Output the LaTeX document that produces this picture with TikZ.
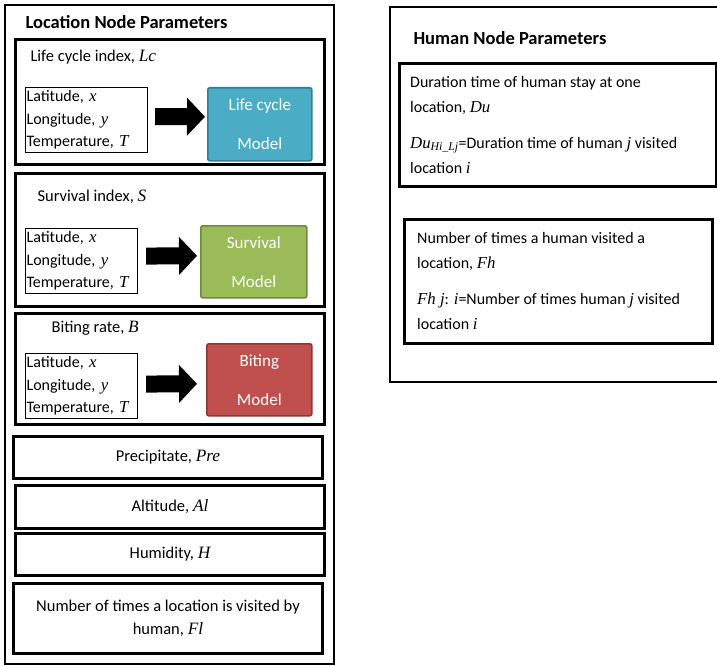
\documentclass[tikz,border=0pt]{standalone}
\usepackage{fontspec}
\setmainfont{Carlito}
\newfontfamily\varfont{Liberation Serif}[Scale=1.05]
\newcommand\mv[1]{{\varfont\itshape #1}}
\usetikzlibrary{arrows.meta,calc}
\definecolor{lcfill}{HTML}{4BACC6}
\definecolor{lcdraw}{HTML}{357D91}
\definecolor{svfill}{HTML}{9BBB59}
\definecolor{svdraw}{HTML}{71893F}
\definecolor{btfill}{HTML}{C0504D}
\definecolor{btdraw}{HTML}{8C3836}
\begin{document}
\begin{tikzpicture}[x=1pt,y=-1pt,
  font=\fontsize{16.5}{19}\selectfont,
  panel/.style={draw, line width=2.4pt, anchor=north west, inner sep=0pt},
  parbox/.style={draw, line width=3pt, anchor=north west, inner sep=0pt, align=center},
  inbox/.style={draw, line width=1.1pt, anchor=north west, inner xsep=1pt, inner ysep=0pt,
    align=left, font=\fontsize{16}{22.5}\selectfont},
  model/.style={line width=1.6pt, rounded corners=2pt, anchor=north west, text=white,
    align=center, inner sep=0pt, font=\fontsize{17}{19}\selectfont},
  heading/.style={anchor=west, font=\fontsize{18.5}{21}\selectfont\bfseries},
  label/.style={anchor=west},
  infobox/.style={draw, line width=3pt, anchor=north west, inner sep=0pt},
  infotext/.style={anchor=north west, inner sep=0pt, align=left,
    font=\fontsize{16}{25}\selectfont},
  blockarrow/.style={line width=17pt, -{Triangle[length=18pt,width=37pt]}}
]
\useasboundingbox (0,0) rectangle (717,666);

% ---------------- location node parameters ----------------
\node[panel, minimum width=329, minimum height=659] (loc) at (3.5,4) {};
\node[heading] (loctitle) at (22,22) {Location Node Parameters};

% life cycle
\node[parbox, minimum width=309, minimum height=125] (lc) at (14,38) {};
\node[label] (lclab) at (27,57) {Life cycle index, \mv{Lc}};
\node[inbox, minimum width=122, minimum height=65, text width=120] (lcin) at (25,87)
  {Latitude, \mv{x}\\Longitude, \mv{y}\\Temperature, \mv{T}};
\node[model, fill=lcfill, draw=lcdraw, minimum width=104, minimum height=73] (lcm) at (207,87)
  {Life cycle\\[20pt]Model};
\draw[blockarrow] ($(lcin.east)+(7,-3.5)$) -- ($(lcm.west)+(-2,-7.5)$);

% survival
\node[parbox, minimum width=309, minimum height=133] (sv) at (14,172) {};
\node[label] (svlab) at (34,197) {Survival index, \mv{S}};
\node[inbox, minimum width=112, minimum height=65, text width=110] (svin) at (25,228)
  {Latitude, \mv{x}\\Longitude, \mv{y}\\Temperature, \mv{T}};
\node[model, fill=svfill, draw=svdraw, minimum width=106, minimum height=72] (svm) at (200,225)
  {Survival\\[20pt]Model};
\draw[blockarrow] ($(svin.east)+(8,-5)$) -- ($(svm.west)+(-3,-6)$);

% biting
\node[parbox, minimum width=309, minimum height=111] (bt) at (14,312) {};
\node[label] (btlab) at (48,328) {Biting rate, \mv{B}};
\node[inbox, minimum width=112, minimum height=65, text width=110] (btin) at (25,353)
  {Latitude, \mv{x}\\Longitude, \mv{y}\\Temperature, \mv{T}};
\node[model, fill=btfill, draw=btdraw, minimum width=105, minimum height=72] (btm) at (206,343)
  {Biting\\[20pt]Model};
\draw[blockarrow] ($(btin.east)+(8,-2)$) -- ($(btm.west)+(-9,4)$);

% single-value parameters
\node[parbox, minimum width=309, minimum height=42] (pre) at (12,435) {Precipitate, \mv{Pre}};
\node[parbox, minimum width=309, minimum height=43] (alt) at (14,484) {Altitude, \mv{Al}};
\node[parbox, minimum width=309, minimum height=42] (hum) at (14,532) {Humidity, \mv{H}};
\node[parbox, minimum width=309, minimum height=70, font=\fontsize{16.5}{23}\selectfont] (fl) at (12,582)
  {Number of times a location is visited by\\human, \mv{Fl}};

% ---------------- human node parameters ----------------
\node[panel, minimum width=345, minimum height=375] (hum panel) at (389,6) {};
\node[heading] (humtitle) at (410,38) {Human Node Parameters};

\node[infobox, minimum width=317, minimum height=123] (du) at (398,62) {};
\node[infotext] (dutext) at (410,76)
  {Duration time of human stay at one\\location, \mv{Du}\\[11pt]
   \mv{Du}\textsubscript{\mv{Hi\_Lj}}=Duration time of human \mv{j} visited\\location \mv{i}};
\node[infobox, minimum width=308, minimum height=124] (fh) at (403,218) {};
\node[infotext] (fhtext) at (417,232)
  {Number of times a human visited a\\location, \mv{Fh}\\[11pt]
   \mv{Fh j}: \mv{i}=Number of times human \mv{j} visited\\location \mv{i}};
\end{tikzpicture}
\end{document}
